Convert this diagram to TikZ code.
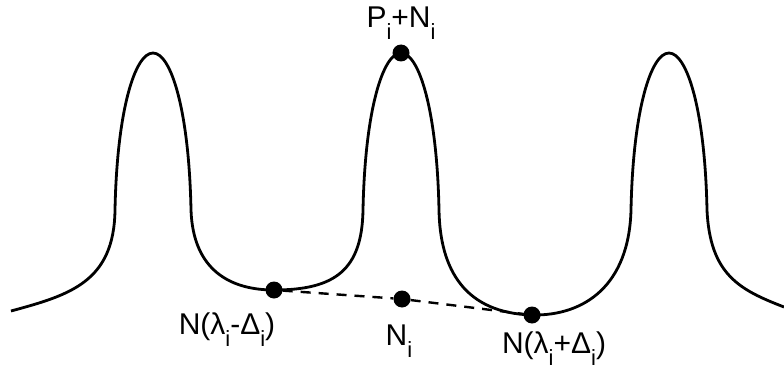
\documentclass[tikz,border=0pt]{standalone}
\usepackage{fontspec}
\setmainfont{Liberation Sans}
\usepackage{tikz}
\newcommand{\lowi}{\raisebox{-12pt}{\fontsize{22}{22}\selectfont i}}

\begin{document}
\begin{tikzpicture}[x=1pt, y=-1pt, font=\fontsize{30}{32}\selectfont,
      spec/.style={line width=2.8pt, line join=round},
      pt/.style={circle, fill=black, inner sep=0pt, minimum size=17pt},
      lbl/.style={anchor=base, inner sep=0pt}]
    \useasboundingbox (0,0) rectangle (784,369);
    % spectrum with three peaks
    \draw[spec] (11,311) .. controls (70,295) and (114,282) .. (115,210)
      .. controls (117,110) and (135,53) .. (153,53)
      .. controls (171,53) and (189,110) .. (191,210)
      .. controls (193,270) and (230,290) .. (274,290)
      .. controls (335,290) and (362,270) .. (363,210)
      .. controls (365,110) and (383,53) .. (401,53)
      .. controls (419,53) and (437,110) .. (439,210)
      .. controls (440,270) and (465,313) .. (532,315)
      .. controls (585,316) and (629,285) .. (631,210)
      .. controls (633,110) and (651,53) .. (669,53)
      .. controls (687,53) and (705,110) .. (707,210)
      .. controls (710,275) and (740,290) .. (784,307);
    \node[pt] (lo) at (274,290) {};
    \node[pt] (top) at (401,53) {};
    \node[pt] (mid) at (402,299) {};
    \node[pt] (hi) at (532,315) {};
    \draw[line width=2.4pt, dash pattern=on 10pt off 8pt] (lo) -- (mid) -- (hi);
    \node[lbl] (ltop) at (401,28) {P\lowi+N\lowi};
    \node[lbl] (llo) at (227,334) {N(λ\lowi-Δ\lowi)};
    \node[lbl] (lmid) at (399,345) {N\lowi};
    \node[lbl] (lhi) at (554,353) {N(λ\lowi+Δ\lowi)};
  \end{tikzpicture}
\end{document}
